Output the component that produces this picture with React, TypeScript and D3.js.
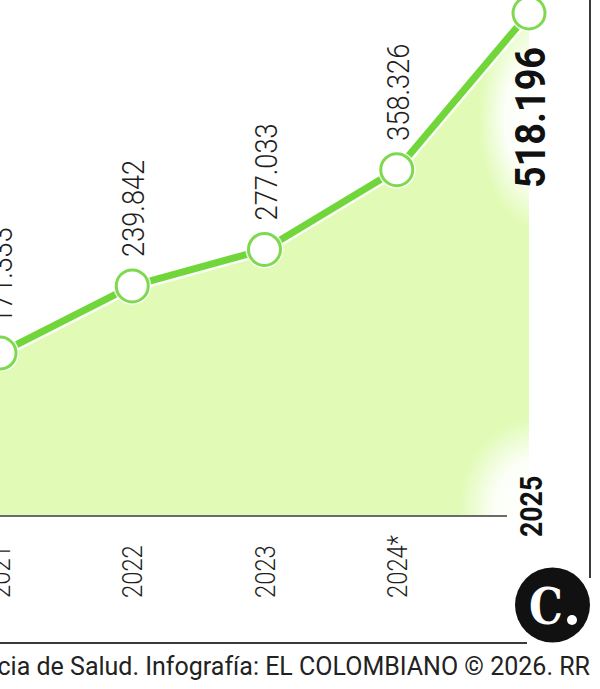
import React from "react";
import * as d3 from "d3";

const years = ["2021", "2022", "2023", "2024*", "2025"];
const values = [171333, 239842, 277033, 358326, 518196];
const footerText = "cia de Salud. Infografía: EL COLOMBIANO © 2026. RR";

const W = 600;
const H = 689;

const GREEN = "#70d63a";
const AREA = "#e1fbb7";

const locale = d3.formatLocale({ decimal: ",", thousands: ".", grouping: [3], currency: ["$", ""] });
const fmt = locale.format(",");

export default function App() {
  const x = d3.scalePoint<string>().domain(years).range([0, 529]);
  const y = d3.scaleLinear().domain([0, 518196]).range([521, 13]);
  const baseY = 516;
  const data = years.map((yr, i) => ({ yr, v: values[i] }));
  const area = d3
    .area<{ yr: string; v: number }>()
    .x((d) => x(d.yr)!)
    .y0(baseY)
    .y1((d) => y(d.v));
  const line = d3
    .line<{ yr: string; v: number }>()
    .x((d) => x(d.yr)!)
    .y((d) => y(d.v));
  const last = data.length - 1;
  const lx = x(years[last])!;
  const lyv = y(values[last]);

  return (
    <svg
      width={W}
      height={H}
      style={{ position: "absolute", left: 0, top: 0, background: "#fff" }}
      fontFamily="Roboto, 'Noto Sans', sans-serif"
    >
      <defs>
        <radialGradient id="glow">
          <stop offset="0%" stopColor="#fff" stopOpacity={1} />
          <stop offset="55%" stopColor="#fff" stopOpacity={0.9} />
          <stop offset="100%" stopColor="#fff" stopOpacity={0} />
        </radialGradient>
      </defs>
      <rect width={W} height={H} fill="#fff" />
      <path d={area(data)!} fill={AREA} />
      {/* white glows behind bold labels */}
      <ellipse cx={lx + 8} cy={lyv + 105} rx={58} ry={110} fill="url(#glow)" />
      <ellipse cx={lx + 10} cy={baseY - 8} rx={80} ry={90} fill="url(#glow)" />
      {/* axis baseline */}
      <line x1={0} x2={507} y1={baseY} y2={baseY} stroke="#6b6b6b" strokeWidth={2} />
      {/* line */}
      <path d={line(data)!} fill="none" stroke="#fff" strokeWidth={12} strokeLinejoin="round" opacity={0.9} />
      <path d={line(data)!} fill="none" stroke={GREEN} strokeWidth={7} strokeLinejoin="round" />
      {data.map((d) => (
        <g key={d.yr}>
          <circle cx={x(d.yr)} cy={y(d.v)} r={19} fill="#fff" opacity={0.8} />
          <circle cx={x(d.yr)} cy={y(d.v)} r={16} fill="#fff" stroke="#7fd94f" strokeWidth={3} />
        </g>
      ))}
      {/* value labels */}
      {data.map((d, i) =>
        i === last ? (
          <text
            key={d.yr}
            transform={`translate(${x(d.yr)! + 16},${y(d.v) + 34}) rotate(-90) scale(0.9,1)`}
            textAnchor="end"
            fontSize={42}
            fontWeight={700}
            fill="#111"
          >
            {fmt(d.v)}
          </text>
        ) : (
          <text
            key={d.yr}
            transform={`translate(${x(d.yr)! + 12},${y(d.v) - 29}) rotate(-90) scale(0.85,1)`}
            textAnchor="start"
            fontSize={32}
            fontWeight={300}
            fill="#1e1e1e"
          >
            {fmt(d.v)}
          </text>
        )
      )}
      {/* year labels */}
      {years.map((yr, i) =>
        i === last ? (
          <text
            key={yr}
            transform={`translate(${x(yr)! + 13},537) rotate(-90) scale(0.86,1)`}
            textAnchor="start"
            fontSize={31}
            fontWeight={700}
            fill="#111"
          >
            {yr}
          </text>
        ) : (
          <text
            key={yr}
            transform={`translate(${x(yr)! + 10},598) rotate(-90) scale(0.85,1)`}
            textAnchor="start"
            fontSize={28}
            fontWeight={300}
            fill="#1e1e1e"
          >
            {yr}
          </text>
        )
      )}
      {/* frame lines */}
      <line x1={590} x2={590} y1={0} y2={578} stroke="#3a3a3a" strokeWidth={2} />
      <line x1={0} x2={527} y1={643} y2={643} stroke="#3a3a3a" strokeWidth={2} />
      {/* logo */}
      <circle cx={552.5} cy={605} r={37.5} fill="#111" />
      <text
        x={546}
        y={624}
        textAnchor="middle"
        fontFamily="'DejaVu Serif', 'Liberation Serif', serif"
        fontWeight={700}
        fontSize={50}
        fill="#fff"
        transform="translate(546,624) scale(0.85,1) translate(-546,-624)"
      >
        C
      </text>
      <circle cx={572} cy={620} r={5} fill="#fff" />
      {/* footer */}
      <text x={590} y={675} textAnchor="end" fontSize={25} fill="#222">
        {footerText}
      </text>
    </svg>
  );
}
